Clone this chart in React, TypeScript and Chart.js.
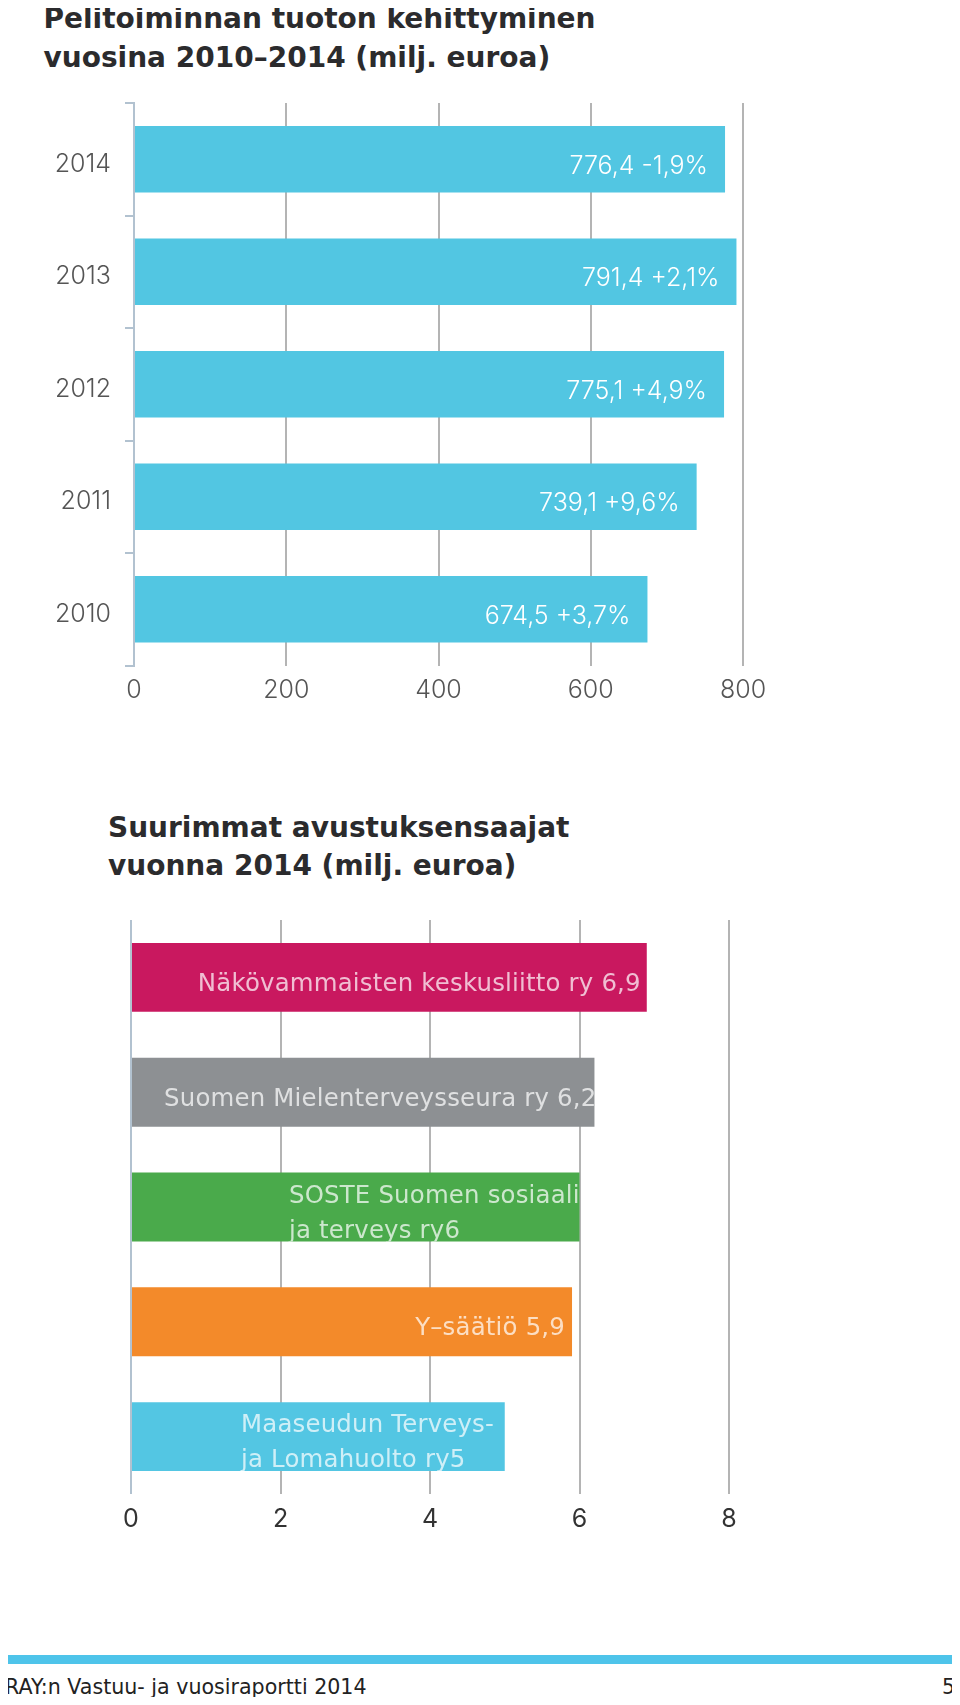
import React, { useEffect, useRef } from "react";
import { Chart, registerables } from "chart.js";

Chart.register(...registerables);

// ---------- data ----------
const years = ["2014", "2013", "2012", "2011", "2010"];
const revenue = [776.4, 791.4, 775.1, 739.1, 674.5];
const revenueChange = ["-1,9%", "+2,1%", "+4,9%", "+9,6%", "+3,7%"];
const revenueTicks = [0, 200, 400, 600, 800];

const recipients = [
  "Näkövammaisten keskusliitto ry",
  "Suomen Mielenterveysseura ry",
  "SOSTE Suomen sosiaali- ja terveys ry",
  "Y–säätiö",
  "Maaseudun Terveys- ja Lomahuolto ry",
];
const grants = [6.9, 6.2, 6.0, 5.9, 5.0];
const grantLabelLines = [
  ["Näkövammaisten keskusliitto ry 6,9"],
  ["Suomen Mielenterveysseura ry 6,2"],
  ["SOSTE Suomen sosiaali-", "ja terveys ry6"],
  ["Y–säätiö 5,9"],
  ["Maaseudun Terveys-", "ja Lomahuolto ry5"],
];
const grantTicks = [0, 2, 4, 6, 8];

// ---------- styles ----------
const FONT = "Inter, 'Open Sans', sans-serif";
const WIDE = "'DejaVu Sans', sans-serif";
const AXIS_BLUE = "#b2c2d0";
const GRID_GRAY = "#b4b4b4";
const REVENUE_COLOR = "#52c6e2";
const GRANT_COLORS = ["#c9185f", "#8d9093", "#4aaa4b", "#f38a2a", "#53c6e3"];
const grantLabelLayout = [
  { align: "right", pad: 6 },
  { align: "right", pad: -2 },
  { align: "left", offset: 157 },
  { align: "right", pad: 7 },
  { align: "left", offset: 109 },
];

type LabelSpec = { align: string; pad?: number; offset?: number };

function makeLabelPlugin(
  lines: string[][],
  layout: LabelSpec[],
  font: string,
  color: string,
  lineGap: number,
  dy: number,
  spacing: string
) {
  return {
    id: "barLabels",
    afterDatasetsDraw(chart: any) {
      const ctx = chart.ctx as CanvasRenderingContext2D;
      const meta = chart.getDatasetMeta(0);
      meta.data.forEach((bar: any, i: number) => {
        const { x, y, base, height } = bar.getProps(["x", "y", "base", "height"], true);
        const spec = layout[i];
        const ls = lines[i];
        ctx.save();
        ctx.beginPath();
        ctx.rect(base, y - height / 2, x - base, height);
        ctx.clip();
        ctx.font = font;
        (ctx as any).letterSpacing = spacing;
        ctx.fillStyle = color;
        ctx.textBaseline = "middle";
        const n = ls.length;
        ls.forEach((line, k) => {
          const ly = y + (k - (n - 1) / 2) * lineGap + dy;
          if (spec.align === "right") {
            ctx.textAlign = "right";
            ctx.fillText(line, x - (spec.pad || 0), ly);
          } else {
            ctx.textAlign = "left";
            ctx.fillText(line, base + (spec.offset || 0), ly);
          }
        });
        ctx.restore();
      });
    },
  };
}

function fmt(v: number) {
  return v.toFixed(1).replace(".", ",");
}

function RevenueChart() {
  const ref = useRef<HTMLCanvasElement>(null);
  useEffect(() => {
    const labelLines = revenue.map((v, i) => [fmt(v) + " " + revenueChange[i]]);
    const layout = revenue.map(() => ({ align: "right", pad: 17 }));
    const chart = new Chart(ref.current!, {
      type: "bar",
      data: {
        labels: years,
        datasets: [
          {
            data: revenue,
            backgroundColor: REVENUE_COLOR,
            borderWidth: 0,
            barPercentage: 0.59,
            categoryPercentage: 1,
          },
        ],
      },
      options: {
        indexAxis: "y",
        animation: false,
        responsive: false,
        maintainAspectRatio: false,
        events: [],
        layout: { padding: { top: 8, right: 57, left: 0, bottom: 0 } },
        plugins: { legend: { display: false }, tooltip: { enabled: false } },
        scales: {
          y: {
            afterFit: (s: any) => {
              s.width = 94;
              s.paddingTop = 0;
              s.paddingBottom = 0;
            },
            ticks: {
              color: "#555",
              font: { family: FONT, size: 25, weight: "300" as any },
              padding: 14,
              labelOffset: 5,
            },
            grid: {
              drawOnChartArea: false,
              drawTicks: true,
              tickLength: 9,
              color: AXIS_BLUE,
              lineWidth: 2,
            },
            border: { display: true, color: AXIS_BLUE, width: 2 },
          },
          x: {
            min: revenueTicks[0],
            max: revenueTicks[revenueTicks.length - 1],
            afterBuildTicks: (s: any) => {
              s.ticks = revenueTicks.map((v) => ({ value: v }));
            },
            afterFit: (s: any) => {
              s.height = 49.5;
            },
            ticks: {
              color: "#555",
              font: { family: FONT, size: 25, weight: "300" as any },
              padding: 10,
            },
            grid: {
              drawTicks: false,
              lineWidth: 2,
              color: (c: any) => (c.tick && c.tick.value === 0 ? "rgba(0,0,0,0)" : GRID_GRAY),
            },
            border: { display: false },
          },
        },
      },
      plugins: [
        makeLabelPlugin(labelLines, layout, `300 25px ${FONT}`, "#ffffff", 0, 7, "0px"),
      ],
    });
    return () => chart.destroy();
  }, []);
  return (
    <canvas
      ref={ref}
      width={760}
      height={620}
      style={{ position: "absolute", left: 32, top: 87, width: 760, height: 620 }}
    />
  );
}

function GrantChart() {
  const ref = useRef<HTMLCanvasElement>(null);
  useEffect(() => {
    const chart = new Chart(ref.current!, {
      type: "bar",
      data: {
        labels: recipients,
        datasets: [
          {
            data: grants,
            backgroundColor: GRANT_COLORS,
            borderWidth: 0,
            barPercentage: 0.6,
            categoryPercentage: 1,
          },
        ],
      },
      options: {
        indexAxis: "y",
        animation: false,
        responsive: false,
        maintainAspectRatio: false,
        events: [],
        layout: { padding: { top: 8, right: 71, left: 91, bottom: 0 } },
        plugins: { legend: { display: false }, tooltip: { enabled: false } },
        scales: {
          y: { display: false },
          x: {
            min: grantTicks[0],
            max: grantTicks[grantTicks.length - 1],
            afterBuildTicks: (s: any) => {
              s.ticks = grantTicks.map((v) => ({ value: v }));
            },
            afterFit: (s: any) => {
              s.height = 58;
            },
            ticks: {
              color: "#333",
              font: { family: FONT, size: 25, weight: "400" as any },
              padding: 10,
            },
            grid: {
              drawTicks: false,
              lineWidth: 2,
              color: (c: any) => (c.tick && c.tick.value === 0 ? AXIS_BLUE : GRID_GRAY),
            },
            border: { display: false },
          },
        },
      },
      plugins: [
        makeLabelPlugin(
          grantLabelLines,
          grantLabelLayout,
          `400 24.4px ${WIDE}`,
          "rgba(255,255,255,0.72)",
          35,
          7,
          "0.2px"
        ),
      ],
    });
    return () => chart.destroy();
  }, []);
  return (
    <canvas
      ref={ref}
      width={760}
      height={640}
      style={{ position: "absolute", left: 32, top: 904, width: 760, height: 640 }}
    />
  );
}

const titleStyle: React.CSSProperties = {
  position: "absolute",
  fontFamily: WIDE,
  fontWeight: 700,
  fontSize: 28,
  color: "#2b2b2d",
  whiteSpace: "nowrap",
};

export default function App() {
  return (
    <div style={{ position: "relative", width: 944, height: 1689 }}>
      <div style={{ ...titleStyle, left: 35.5, top: -9, lineHeight: "39px" }}>
        Pelitoiminnan tuoton kehittyminen
        <br />
        vuosina 2010–2014 (milj. euroa)
      </div>
      <RevenueChart />
      <div style={{ ...titleStyle, left: 100, top: 801, lineHeight: "38px" }}>
        Suurimmat avustuksensaajat
        <br />
        vuonna 2014 (milj. euroa)
      </div>
      <GrantChart />
      <div
        style={{
          position: "absolute",
          left: -3,
          top: 1647,
          width: 950,
          height: 9,
          background: "#4ec4ea",
        }}
      />
      <div
        style={{
          position: "absolute",
          left: -3,
          top: 1667,
          width: 950,
          display: "flex",
          justifyContent: "space-between",
          fontFamily: WIDE,
          fontSize: 20.6,
          lineHeight: "24px",
          color: "#222",
        }}
      >
        <span>RAY:n Vastuu- ja vuosiraportti 2014</span>
        <span>5</span>
      </div>
    </div>
  );
}
